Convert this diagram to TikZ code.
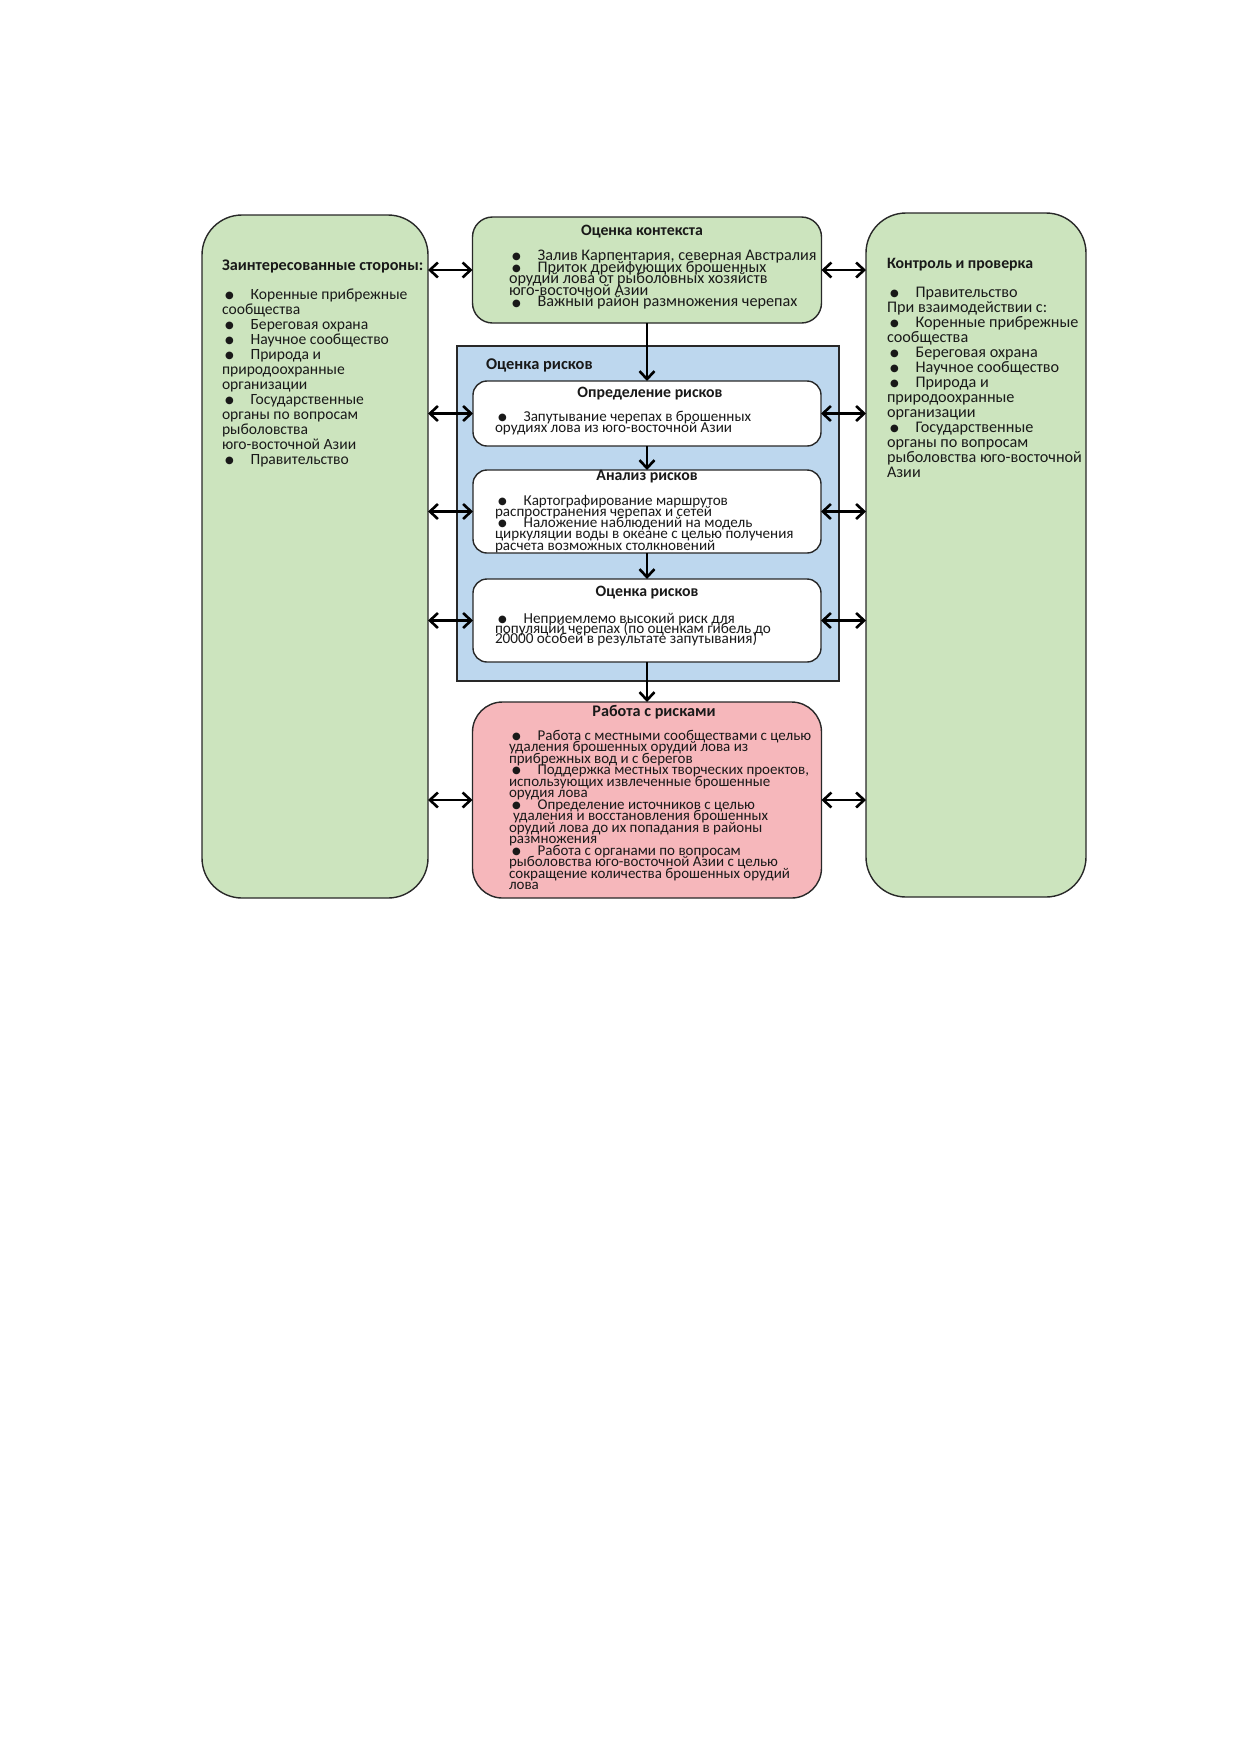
\documentclass[tikz,border=0pt]{standalone}
\usepackage{fontspec}
\setmainfont{Carlito}
\newfontfamily\symf{DejaVu Sans}
\usetikzlibrary{arrows.meta}
\definecolor{boxgreen}{RGB}{204,228,190}
\definecolor{boxblue}{RGB}{189,215,238}
\definecolor{boxpink}{RGB}{246,183,187}
\definecolor{edge}{RGB}{40,40,40}
\newcommand\bul{\hspace*{1.5pt}\makebox[12.8pt][l]{\raisebox{0.4pt}{\symf\fontsize{5}{5}\selectfont ●}}}
\newcommand\txtfont[2]{\fontsize{#1}{#2}\selectfont\lineskiplimit=-20pt\lineskip=0pt}
\tikzset{
  box/.style={draw=edge, line width=0.7pt, inner sep=0pt, outer sep=0pt},
  tx/.style={inner sep=0pt, outer sep=0pt, align=left, anchor=north west, text=black!90},
  ttl/.style={inner sep=0pt, outer sep=0pt, font=\fontsize{7.9}{8}\selectfont\bfseries, text=black!90},
  dbl/.style={{Straight Barb[length=4pt,width=7.5pt]}-{Straight Barb[length=4pt,width=7.5pt]}, line width=1.3pt},
  one/.style={-{Straight Barb[length=4pt,width=7.5pt]}, line width=1.3pt}
}
\begin{document}
\begin{tikzpicture}[x=0.5pt,y=-0.5pt]
\path[use as bounding box, fill=white] (0,0) rectangle (1239,1752);
% boxes
\node[box, fill=boxgreen, rounded corners=20pt, minimum width=113pt, minimum height=341.5pt] (L) at (315,556.5) {};
\node[box, fill=boxgreen, rounded corners=20pt, minimum width=110pt, minimum height=342pt] (R) at (976,555) {};
\node[box, fill=boxgreen, rounded corners=10pt, minimum width=174.5pt, minimum height=53pt] (C) at (647,270) {};
\node[box, fill=boxblue, minimum width=191pt, minimum height=167.5pt] (B) at (648,513.5) {};
\node[box, fill=white, rounded corners=7pt, minimum width=174pt, minimum height=32.5pt] (D1) at (647,413.5) {};
\node[box, fill=white, rounded corners=7pt, minimum width=174pt, minimum height=41.5pt] (D2) at (647,511.5) {};
\node[box, fill=white, rounded corners=7pt, minimum width=174pt, minimum height=41.5pt] (D3) at (647,620.5) {};
\node[box, fill=boxpink, rounded corners=15pt, minimum width=174.5pt, minimum height=98pt] (P) at (647,800) {};
% titles
\node[ttl] (Ct) at (642,232) {Оценка контекста};
\node[ttl, anchor=west, font=\fontsize{8.2}{8}\selectfont\bfseries] (Bt) at (486,365) {Оценка рисков};
\node[ttl] (D1t) at (650,394) {Определение рисков};
\node[ttl] (D2t) at (647,477) {Анализ рисков};
\node[ttl] (D3t) at (647,593) {Оценка рисков};
\node[ttl, font=\fontsize{8.1}{8}\selectfont\bfseries] (Pt) at (654,712) {Работа с рисками};
% texts
\node[tx, font=\txtfont{7.8}{7.5}] (Ltx) at (222,260) {{\fontsize{8.1}{8}\selectfont\textbf{Заинтересованные стороны:}}\\[7pt]
\bul Коренные прибрежные\\
сообщества\\
\bul Береговая охрана\\
\bul Научное сообщество\\
\bul Природа и\\
природоохранные\\
организации\\
\bul Государственные\\
органы по вопросам\\
рыболовства\\
юго-восточной Азии\\
\bul Правительство};
\node[tx, font=\txtfont{8.1}{7.5}] (Rtx) at (887,258) {{\fontsize{7.9}{8}\selectfont\textbf{Контроль и проверка}}\\[7pt]
\bul Правительство\\
При взаимодействии с:\\
\bul Коренные прибрежные\\
сообщества\\
\bul Береговая охрана\\
\bul Научное сообщество\\
\bul Природа и\\
природоохранные\\
организации\\
\bul Государственные\\
органы по вопросам\\
рыболовства юго-восточной\\
Азии};
\node[tx, font=\txtfont{8.1}{5.8}] (Ctx) at (509,250) {\bul Залив Карпентария, северная Австралия\\
\bul Приток дрейфующих брошенных\\
орудий лова от рыболовных хозяйств\\
юго-восточной Азии\\
\bul Важный район размножения черепах};
\node[tx, font=\txtfont{7.55}{5.6}] (D1x) at (495,411) {\bul Запутывание черепах в брошенных\\
орудиях лова из юго-восточной Азии};
\node[tx, font=\txtfont{7.55}{5.6}] (D2x) at (495,495) {\bul Картографирование маршрутов\\
распространения черепах и сетей\\
\bul Наложение наблюдений на модель\\
циркуляции воды в океане с целью получения\\
расчета возможных столкновений};
\node[tx, font=\txtfont{7.6}{5.1}] (D3x) at (495,613) {\bul Неприемлемо высокий риск для\\
популяций черепах (по оценкам гибель до\\
20000 особей в результате запутывания)};
\node[tx, font=\txtfont{7.5}{5.75}] (Ptx) at (509,730) {\bul Работа с местными сообществами с целью\\
удаления брошенных орудий лова из\\
прибрежных вод и с берегов\\
\bul Поддержка местных творческих проектов,\\
использующих извлеченные брошенные\\
орудия лова\\
\bul Определение источников с целью\\
\hspace*{2pt}удаления и восстановления брошенных\\
орудий лова до их попадания в районы\\
размножения\\
\bul Работа с органами по вопросам\\
рыболовства юго-восточной Азии с целью\\
сокращение количества брошенных орудий\\
лова};
% vertical arrows
\draw[one] (C.south) -- (D1.north);
\draw[one] (D1.south) -- (D2.north);
\draw[one] (D2.south) -- (D3.north);
\draw[one] (D3.south) -- (P.north);
% horizontal double arrows
\foreach \n in {C,D1,D2,D3,P}{
  \draw[dbl] (L.east |- \n.west) -- (\n.west);
  \draw[dbl] (\n.east) -- (\n.east -| R.west);
}
\end{tikzpicture}
\end{document}
